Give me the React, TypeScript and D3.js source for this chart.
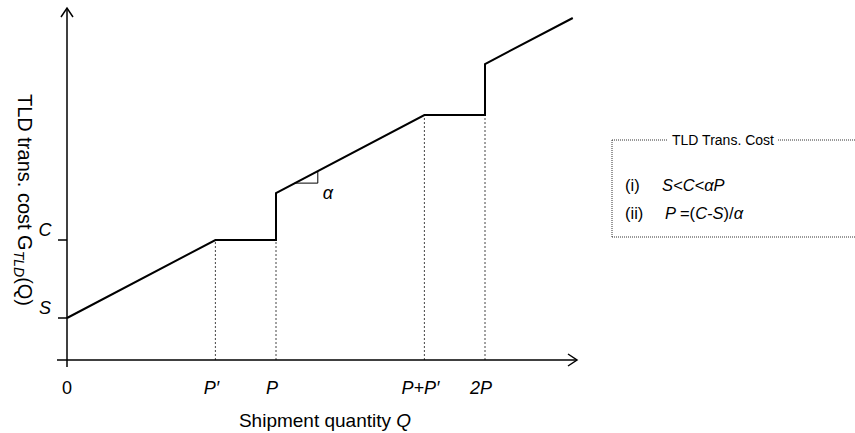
import React, { useEffect, useRef } from "react";
import * as d3 from "d3";

// shipment quantity (in units of P) and TLD cost along the step curve
const curveQ = [0, 0.71, 1, 1, 1.71, 2, 2, 2.42];
const curveG = [0.42, 1.2, 1.2, 1.67, 2.45, 2.45, 2.96, 3.42];

const xTickValues = [0, 0.71, 1, 1.71, 2];
const xTickLabels = ["0", "P\u2032", "P", "P+P\u2032", "2P"];

const yTickValues = [0.42, 1.2];
const yTickLabels = ["S", "C"];

// dotted guides: [q, cost]
const guideQ = [0.71, 1, 1.71, 2];
const guideG = [1.2, 1.2, 2.45, 2.45];

// slope triangle on the second rising segment
const slopeQ = [1.09, 1.2];

const FONT = "'Liberation Sans', Arial, sans-serif";

function App() {
  const ref = useRef<SVGSVGElement>(null);

  useEffect(() => {
    const svg = d3.select(ref.current);
    svg.selectAll("*").remove();

    const x = d3.scaleLinear().domain([0, 1]).range([67, 276]);
    const y = d3.scaleLinear().domain([0, 1]).range([360, 260]);

    const g = svg.append("g");

    // dotted guides
    guideQ.forEach((q, i) => {
      g.append("line")
        .attr("x1", x(q)).attr("x2", x(q))
        .attr("y1", y(0)).attr("y2", y(guideG[i]))
        .attr("stroke", "#444")
        .attr("stroke-width", 1)
        .attr("stroke-dasharray", "2,2");
    });

    // axes
    const xEnd = 577, yTop = 8;
    g.append("line")
      .attr("x1", 57).attr("x2", xEnd)
      .attr("y1", y(0)).attr("y2", y(0))
      .attr("stroke", "#000").attr("stroke-width", 1.5);
    g.append("path")
      .attr("d", `M${xEnd - 9},${y(0) - 6}L${xEnd},${y(0)}L${xEnd - 9},${y(0) + 6}`)
      .attr("fill", "none").attr("stroke", "#000").attr("stroke-width", 1.5);

    g.append("line")
      .attr("x1", x(0)).attr("x2", x(0))
      .attr("y1", 367).attr("y2", yTop)
      .attr("stroke", "#000").attr("stroke-width", 1.5);
    g.append("path")
      .attr("d", `M${x(0) - 6},${yTop + 9}L${x(0)},${yTop}L${x(0) + 6},${yTop + 9}`)
      .attr("fill", "none").attr("stroke", "#000").attr("stroke-width", 1.5);

    // y ticks
    yTickValues.forEach((v, i) => {
      g.append("line")
        .attr("x1", 58).attr("x2", x(0))
        .attr("y1", y(v)).attr("y2", y(v))
        .attr("stroke", "#000").attr("stroke-width", 1.5);
      g.append("text")
        .attr("x", 45).attr("y", y(v) - 4)
        .attr("text-anchor", "middle")
        .attr("font-family", FONT).attr("font-size", 18)
        .attr("font-style", "italic")
        .text(yTickLabels[i]);
    });

    // x tick labels
    xTickValues.forEach((v, i) => {
      g.append("text")
        .attr("x", x(v) - (i === 0 ? 0 : 4)).attr("y", 394)
        .attr("text-anchor", "middle")
        .attr("font-family", FONT).attr("font-size", 18)
        .attr("font-style", i === 0 ? "normal" : "italic")
        .text(xTickLabels[i]);
    });

    // cost curve
    const pts = curveQ.map((q, i) => [q, curveG[i]] as [number, number]);
    g.append("path")
      .datum(pts)
      .attr("d", d3.line<[number, number]>().x(d => x(d[0])).y(d => y(d[1])))
      .attr("fill", "none")
      .attr("stroke", "#000")
      .attr("stroke-width", 2);

    // slope triangle
    const onLine = (q: number) => 1.67 + (q - 1) * (2.45 - 1.67) / 0.71;
    const [qa, qb] = slopeQ;
    g.append("path")
      .attr("d", `M${x(qa)},${y(onLine(qa))}L${x(qb)},${y(onLine(qa))}L${x(qb)},${y(onLine(qb))}`)
      .attr("fill", "none").attr("stroke", "#000").attr("stroke-width", 1);
    g.append("text")
      .attr("x", 328).attr("y", 199)
      .attr("text-anchor", "middle")
      .attr("font-family", FONT).attr("font-size", 18)
      .attr("font-style", "italic")
      .text("\u03b1");

    // axis titles
    const xt = g.append("text")
      .attr("x", 325).attr("y", 427)
      .attr("text-anchor", "middle")
      .attr("font-family", FONT).attr("font-size", 19);
    xt.append("tspan").text("Shipment quantity ");
    xt.append("tspan").attr("font-style", "italic").text("Q");

    const yt = g.append("text")
      .attr("transform", "translate(18,200) rotate(90)")
      .attr("text-anchor", "middle")
      .attr("font-family", FONT).attr("font-size", 20);
    yt.append("tspan").text("TLD trans. cost G");
    yt.append("tspan").attr("font-style", "italic").attr("font-size", 14).attr("dy", 4).text("TLD");
    yt.append("tspan").attr("dy", -4).text("(Q)");

    // legend box
    const lx = 612, ly = 140, lb = 237, lr = 870;
    const dotted = (x1: number, y1: number, x2: number, y2: number) =>
      g.append("line")
        .attr("x1", x1).attr("y1", y1).attr("x2", x2).attr("y2", y2)
        .attr("stroke", "#333").attr("stroke-width", 1)
        .attr("stroke-dasharray", "1,1");
    dotted(lx, ly, 668, ly);
    dotted(778, ly, lr, ly);
    dotted(lx, ly, lx, lb);
    dotted(lx, lb, lr, lb);

    g.append("text")
      .attr("x", 723).attr("y", ly + 5)
      .attr("text-anchor", "middle")
      .attr("font-family", FONT).attr("font-size", 14)
      .text("TLD Trans. Cost");

    const l1 = g.append("text")
      .attr("x", 625).attr("y", 191)
      .attr("font-family", FONT).attr("font-size", 16.5);
    l1.append("tspan").text("(i)");
    l1.append("tspan").attr("x", 662).attr("font-style", "italic").text("S<C<\u03b1P");

    const l2 = g.append("text")
      .attr("x", 625).attr("y", 219)
      .attr("font-family", FONT).attr("font-size", 16.5);
    l2.append("tspan").text("(ii)");
    l2.append("tspan").attr("x", 665).attr("font-style", "italic").text("P ");
    l2.append("tspan").text("=(");
    l2.append("tspan").attr("font-style", "italic").text("C-S");
    l2.append("tspan").text(")/");
    l2.append("tspan").attr("font-style", "italic").text("\u03b1");
  }, []);

  return (
    <svg
      ref={ref}
      width={855}
      height={433}
      style={{ position: "absolute", left: 0, top: 0, background: "#fff" }}
    />
  );
}

export default App;
